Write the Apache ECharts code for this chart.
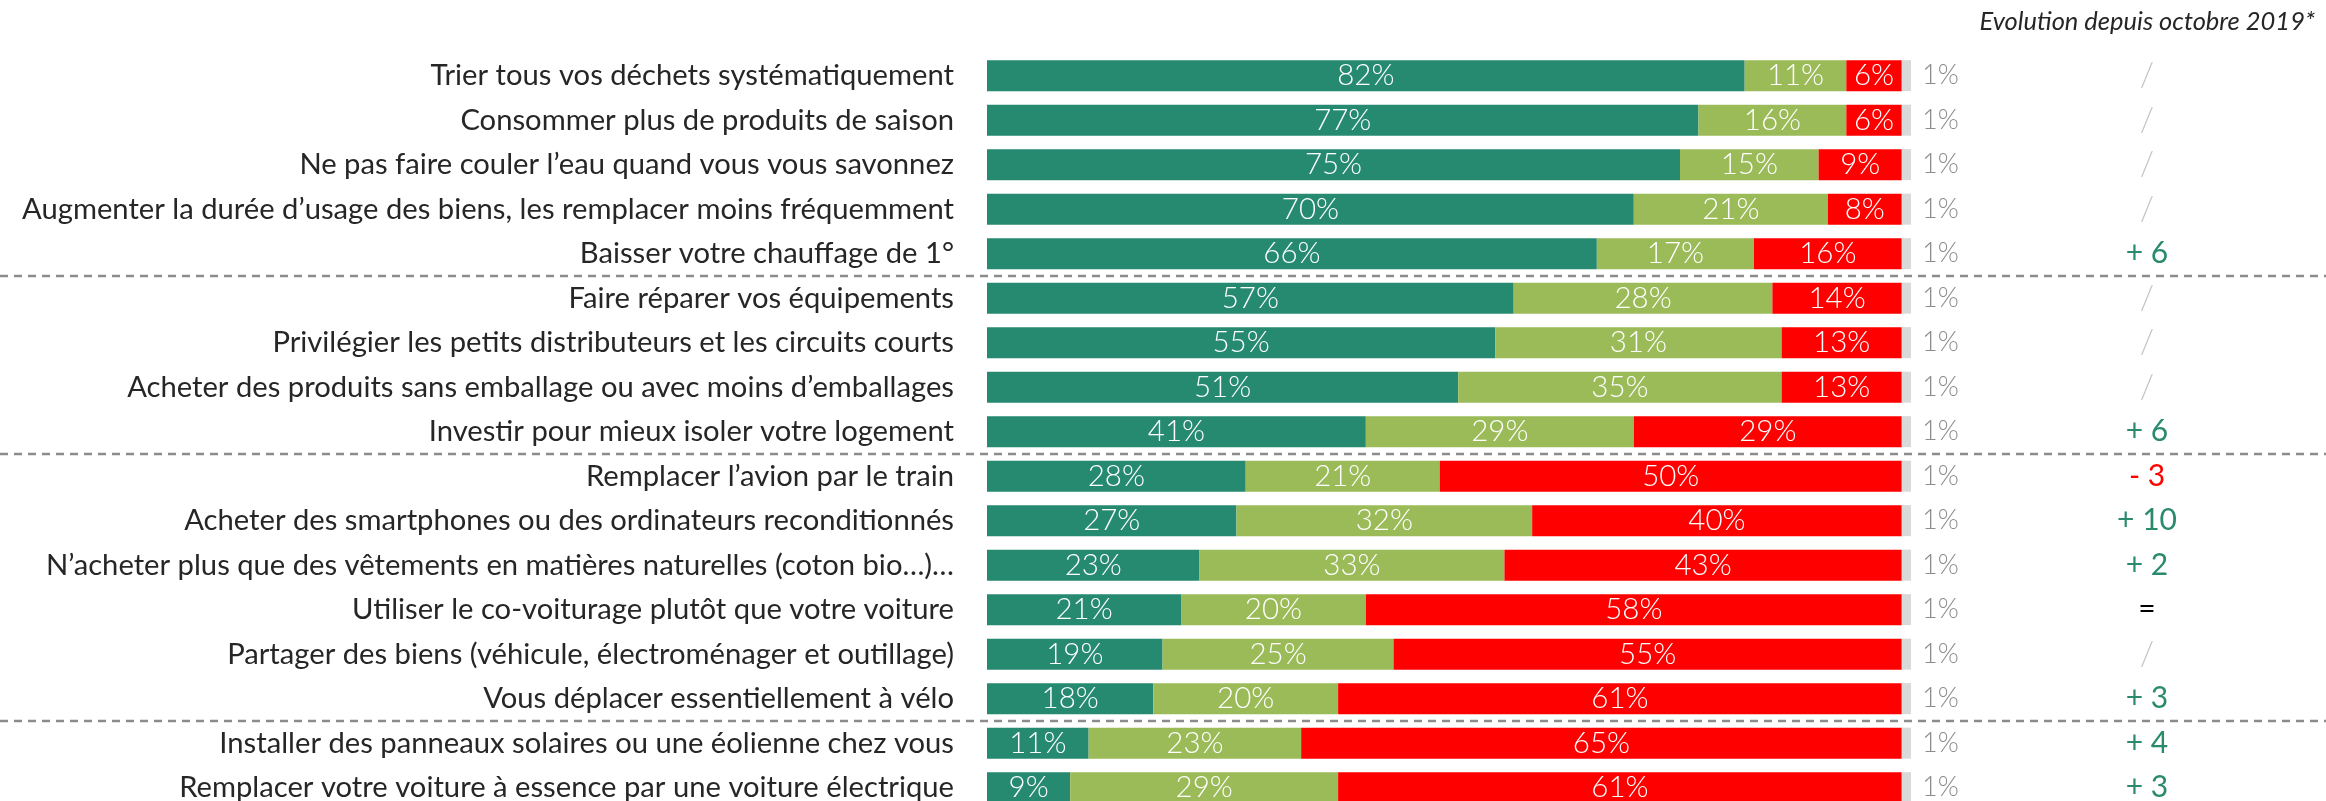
<!DOCTYPE html>
<html>
<head>
<meta charset="utf-8">
<script src="https://cdn.jsdelivr.net/npm/echarts@6/dist/echarts.min.js"></script>
<style>
html,body{margin:0;padding:0;background:#fff;}
#chart{width:2326px;height:801px;}
</style>
</head>
<body>
<div id="chart"></div>
<script>
const categories = [
  "Trier tous vos déchets systématiquement",
  "Consommer plus de produits de saison",
  "Ne pas faire couler l’eau quand vous vous savonnez",
  "Augmenter la durée d’usage des biens, les remplacer moins fréquemment",
  "Baisser votre chauffage de 1°",
  "Faire réparer vos équipements",
  "Privilégier les petits distributeurs et les circuits courts",
  "Acheter des produits sans emballage ou avec moins d’emballages",
  "Investir pour mieux isoler votre logement",
  "Remplacer l’avion par le train",
  "Acheter des smartphones ou des ordinateurs reconditionnés",
  "N’acheter plus que des vêtements en matières naturelles (coton bio…)…",
  "Utiliser le co-voiturage plutôt que votre voiture",
  "Partager des biens (véhicule, électroménager et outillage)",
  "Vous déplacer essentiellement à vélo",
  "Installer des panneaux solaires ou une éolienne chez vous",
  "Remplacer votre voiture à essence par une voiture électrique"
];
const dejaFait = [82, 77, 75, 70, 66, 57, 55, 51, 41, 28, 27, 23, 21, 19, 18, 11, 9];
const pretAFaire = [11, 16, 15, 21, 17, 28, 31, 35, 29, 21, 32, 33, 20, 25, 20, 23, 29];
const pasPret = [6, 6, 9, 8, 16, 14, 13, 13, 29, 50, 40, 43, 58, 55, 61, 65, 61];
const nsp = [1, 1, 1, 1, 1, 1, 1, 1, 1, 1, 1, 1, 1, 1, 1, 1, 1];
const evolution = ["/", "/", "/", "/", "+ 6", "/", "/", "/", "+ 6", "- 3", "+ 10", "+ 2", "=", "/", "+ 3", "+ 4", "+ 3"];
const groupBreaks = [4, 8, 14];
const headerText = "Evolution depuis octobre 2019*";

const FONT = 'Lato';
const chart = echarts.init(document.getElementById('chart'), null, {renderer: 'canvas'});

function seg(name, data, color, labelColor) {
  return {
    name: name, type: 'bar', stack: 'total', data: data, barWidth: 31,
    itemStyle: {color: color},
    label: {show: true, position: 'inside', color: labelColor, fontFamily: FONT, fontWeight: 300, fontSize: 29.5, formatter: '{c}%'},
    emphasis: {disabled: true},
    animation: false
  };
}

const option = {
  animation: false,
  grid: {left: 987, width: 924, top: 53.4, height: 756.5, containLabel: false, outerBoundsMode: 'none'},
  xAxis: {type: 'value', min: 0, max: 100, show: false},
  yAxis: [
    {
      type: 'category', data: categories, inverse: true,
      axisLine: {show: false}, axisTick: {show: false},
      axisLabel: {margin: 33, color: '#262626', fontFamily: FONT, fontWeight: 400, fontSize: 29.2}
    },
    {
      type: 'category', data: categories, inverse: true, position: 'right',
      axisLine: {show: false}, axisTick: {show: false},
      axisLabel: {
        margin: 236, align: 'center',
        formatter: function (v, i) {
          const e = evolution[i];
          const c = e[0];
          const key = c === '+' ? 'g' : c === '-' ? 'r' : c === '=' ? 'k' : 's';
          return '{' + key + '|' + e + '}';
        },
        rich: {
          g: {color: '#2a8a6e', fontFamily: FONT, fontSize: 30},
          r: {color: '#ff0000', fontFamily: FONT, fontSize: 30},
          k: {color: '#000000', fontFamily: FONT, fontSize: 30},
          s: {color: '#c4c4c4', fontFamily: FONT, fontWeight: 300, fontSize: 33}
        }
      }
    }
  ],
  series: [
    seg('Déjà fait', dejaFait, '#268a70', '#ffffff'),
    seg('Prêt à faire', pretAFaire, '#9bbb59', '#ffffff'),
    seg('Pas prêt', pasPret, '#ff0000', '#ffffff'),
    {
      name: 'NSP', type: 'bar', stack: 'total', data: nsp, barWidth: 31,
      itemStyle: {color: '#d9d9d9'},
      label: {show: true, position: 'right', distance: 11, color: '#8c8c8c', fontFamily: FONT, fontWeight: 300, fontSize: 27, formatter: '{c}%'},
      emphasis: {disabled: true}
    }
  ],
  graphic: [
    {type: 'text', right: 11, top: 9, style: {text: headerText, fontFamily: FONT, fontStyle: 'italic', fontWeight: 400, fontSize: 25.5, fill: '#262626'}}
  ]
};
chart.setOption(option);

const lines = groupBreaks.map(function (i) {
  const y1 = chart.convertToPixel({yAxisIndex: 0}, i);
  const y2 = chart.convertToPixel({yAxisIndex: 0}, i + 1);
  const y = (y1 + y2) / 2;
  return {type: 'line', shape: {x1: 0, y1: y, x2: 2326, y2: y}, style: {stroke: '#8c8c8c', lineWidth: 2.5, lineDash: [8, 6]}, silent: true};
});
chart.setOption({graphic: option.graphic.concat(lines)});
</script>
</body>
</html>
